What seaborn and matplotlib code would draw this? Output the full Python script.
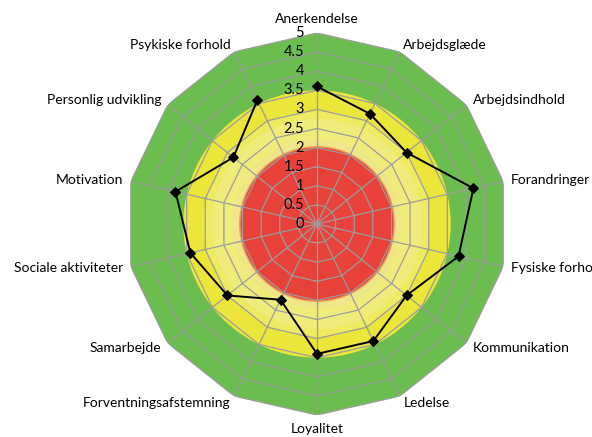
import numpy as np
import pandas as pd
import matplotlib
matplotlib.use("Agg")
import matplotlib.pyplot as plt
import seaborn as sns

categories = ["Anerkendelse", "Arbejdsglæde", "Arbejdsindhold", "Forandringer",
              "Fysiske forhold", "Kommunikation", "Ledelse", "Loyalitet",
              "Forventningsafstemning", "Samarbejde", "Sociale aktiviteter",
              "Motivation", "Personlig udvikling", "Psykiske forhold"]
values = [3.6, 3.2, 3.0, 4.2, 3.8, 3.0, 3.4, 3.4, 2.2, 3.0, 3.4, 3.8, 2.8, 3.6]
tick_values = [0, 0.5, 1, 1.5, 2, 2.5, 3, 3.5, 4, 4.5, 5]
tick_labels = ["0", "0.5", "1", "1.5", "2", "2.5", "3", "3.5", "4", "4.5", "5"]
zone_red = (0, 2.0)
zone_yellow = (2.0, 3.5)
zone_green = (3.5, 5.0)

sns.set_theme(style="white")
plt.rcParams['font.family'] = ['Lato', 'DejaVu Sans']

n = len(categories)
theta = np.arange(n) * 2 * np.pi / n
theta_closed = np.append(theta, theta[0])
dense = np.linspace(0, 2 * np.pi, 721)

fig = plt.figure(figsize=(5.92, 4.37), dpi=100)
W, H = 592, 437
cx, cy, R = 317, 224, 191
ax = fig.add_axes([(cx - R) / W, (H - cy - R) / H, 2 * R / W, 2 * R / H], projection='polar')
ax.set_theta_zero_location('N')
ax.set_theta_direction(-1)
ax.set_ylim(0, 5)
ax.grid(False)
ax.set_xticks([])
ax.set_yticks([])
ax.spines['polar'].set_visible(False)
ax.patch.set_alpha(0)

# zones
rmax = zone_green[1]
green_poly_r = np.full(n + 1, rmax)
ax.fill(theta_closed, green_poly_r, color='#6cbd4f', lw=0, zorder=1)
ax.fill(dense, np.full_like(dense, zone_yellow[1]), color='#ece53a', lw=0, zorder=2)
ax.fill(dense, np.full_like(dense, 2.95), color='#eeea62', lw=0, zorder=2)
ax.fill(dense, np.full_like(dense, 2.75), color='#f0ec7c', lw=0, zorder=2)
ax.fill(dense, np.full_like(dense, 2.2), color='#efe68a', lw=0, zorder=2)
ax.fill(dense, np.full_like(dense, zone_red[1] + 0.04), color='#ee9a55', lw=0, zorder=2)
ax.fill(dense, np.full_like(dense, zone_red[1]), color='#e8413a', lw=0, zorder=3)

# grid
grid_c = '#9c9c9c'
for v in tick_values[1:]:
    ax.plot(theta_closed, np.full(n + 1, v), color=grid_c, lw=0.9, zorder=4)
for t in theta:
    ax.plot([t, t], [0, rmax], color=grid_c, lw=0.9, zorder=4)

# data
df = pd.DataFrame({"theta": theta_closed, "value": values + [values[0]]})
sns.lineplot(data=df, x="theta", y="value", sort=False, ax=ax, color='black',
             lw=1.4, marker='D', markersize=5, markeredgecolor='black', zorder=6)
ax.set_xlabel("")
ax.set_ylabel("")
ax.set_ylim(0, 5)

# category labels
for t, lab in zip(theta, categories):
    s, c = np.sin(t), np.cos(t)
    if abs(s) < 0.1:
        ha = 'center'
        va = 'bottom' if c > 0 else 'top'
    else:
        ha = 'left' if s > 0 else 'right'
        va = 'center'
    ax.annotate(lab, xy=(t, rmax), xytext=(8 * s, 8 * c), textcoords='offset pixels',
                ha=ha, va=va, fontsize=10, color='black', zorder=7, annotation_clip=False)

# radial tick labels
for v, lab in zip(tick_values, tick_labels):
    ax.annotate(lab, xy=(0, v), xytext=(-13, 0), textcoords='offset pixels',
                ha='right', va='center', fontsize=10.5, color='black', zorder=7)

fig.savefig("out.png", dpi=100)
